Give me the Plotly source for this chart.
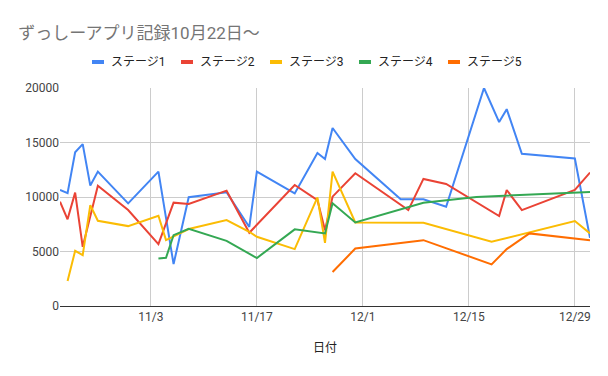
import plotly.graph_objects as go

YEAR = "2022"

stage1_dates = ["10-22","10-23","10-24","10-25","10-26","10-27","10-31","11-04","11-06","11-08","11-13","11-16","11-17","11-22","11-25","11-26","11-27","11-30","12-06","12-09","12-12","12-17","12-19","12-20","12-22","12-29","12-31"]
stage1_values = [10650,10350,14100,14850,11050,12330,9420,12330,3840,9980,10430,7250,12330,10330,14030,13480,16330,13480,9790,9790,9110,20000,16870,18060,13960,13530,6250]

stage2_dates = ["10-22","10-23","10-24","10-25","10-27","10-31","11-04","11-06","11-08","11-13","11-16","11-22","11-25","11-26","11-27","11-30","12-07","12-09","12-12","12-19","12-20","12-22","12-29","12-31"]
stage2_values = [9570,7950,10400,5430,11040,8800,5680,9480,9360,10580,6720,11100,9720,6960,10030,12180,8800,11660,11200,8250,10640,8800,10640,12240]

stage3_dates = ["10-23","10-24","10-25","10-26","10-27","10-31","11-04","11-05","11-08","11-13","11-16","11-17","11-22","11-25","11-26","11-27","11-30","12-09","12-18","12-29","12-31"]
stage3_values = [2300,5060,4670,9260,7820,7330,8280,6040,7060,7880,6810,6350,5220,9970,5800,12330,7670,7640,5890,7790,6660]

stage4_dates = ["11-04","11-05","11-06","11-08","11-13","11-17","11-22","11-26","11-27","11-30","12-09","12-16","12-31"]
stage4_values = [4360,4420,6500,7080,5980,4400,7030,6660,9420,7670,9470,10000,10460]

stage5_dates = ["11-27","11-30","12-09","12-18","12-20","12-23","12-31"]
stage5_values = [3120,5270,6040,3820,5220,6660,6040]

series_names = ["ステージ1", "ステージ2", "ステージ3", "ステージ4", "ステージ5"]
colors = ["#4285F4", "#EA4335", "#FBBC04", "#34A853", "#FF6D01"]
x_ticks = ["11-03", "11-17", "12-01", "12-15", "12-29"]
x_tick_labels = ["11/3", "11/17", "12/1", "12/15", "12/29"]
y_ticks = [0, 5000, 10000, 15000, 20000]

def d(s):
    return f"{YEAR}-{s}"

all_series = [
    (stage1_dates, stage1_values),
    (stage2_dates, stage2_values),
    (stage3_dates, stage3_values),
    (stage4_dates, stage4_values),
    (stage5_dates, stage5_values),
]

FONT = "Roboto, Arial, 'Noto Sans CJK JP', sans-serif"

W, H = 608, 376
ML, MR, MT, MB = 60, 18, 88, 70
PW, PH = W - ML - MR, H - MT - MB

def px_to_paper_x(px):
    return (px - ML) / PW

def px_to_paper_y(py):
    return (H - MB - py) / PH

fig = go.Figure()
for (dates, vals), name, c in zip(all_series, series_names, colors):
    fig.add_trace(go.Scatter(
        x=[d(s) for s in dates], y=vals, mode="lines", name=name,
        line=dict(color=c, width=2), showlegend=False,
    ))

# Legend drawn as swatches + text (Google Sheets style)
shapes = []
annotations = []
leg_y = 62
for i, (name, c) in enumerate(zip(series_names, colors)):
    left = 92 + 89 * i
    shapes.append(dict(
        type="rect", xref="paper", yref="paper",
        x0=px_to_paper_x(left), x1=px_to_paper_x(left + 12),
        y0=px_to_paper_y(leg_y + 2), y1=px_to_paper_y(leg_y - 2),
        fillcolor=c, line=dict(width=0),
    ))
    annotations.append(dict(
        text=name, xref="paper", yref="paper",
        x=px_to_paper_x(left + 17), y=px_to_paper_y(leg_y),
        xanchor="left", yanchor="middle", showarrow=False,
        font=dict(family=FONT, size=12, color="#222222"),
    ))

fig.update_layout(
    width=W, height=H,
    margin=dict(l=ML, r=MR, t=MT, b=MB),
    paper_bgcolor="white", plot_bgcolor="white",
    font=dict(family=FONT, color="#222222", size=12),
    showlegend=False,
    shapes=shapes, annotations=annotations,
    title=dict(text="ずっしーアプリ記録10月22日～", x=0.03, xanchor="left", y=0.912, yanchor="middle",
               font=dict(family=FONT, size=17, color="#757575")),
    xaxis=dict(
        type="date", range=[d("10-22"), d("12-31")],
        tickvals=[d(s) for s in x_ticks], ticktext=x_tick_labels,
        showgrid=True, gridcolor="#cccccc", gridwidth=1,
        showline=True, linecolor="#333333", linewidth=1,
        ticks="", tickfont=dict(size=12, color="#444444"),
        title=dict(text="日付", font=dict(size=12, color="#222222"), standoff=20),
        zeroline=False, automargin=False,
    ),
    yaxis=dict(
        range=[0, 20000], tickvals=y_ticks, tickformat="d",
        showgrid=True, gridcolor="#cccccc", gridwidth=1,
        zeroline=False, showline=False, ticks="",
        tickfont=dict(size=12, color="#444444"), automargin=False,
    ),
)

fig.write_html("out.html", config={"displayModeBar": False},
               post_script="document.body.style.margin='0';")
